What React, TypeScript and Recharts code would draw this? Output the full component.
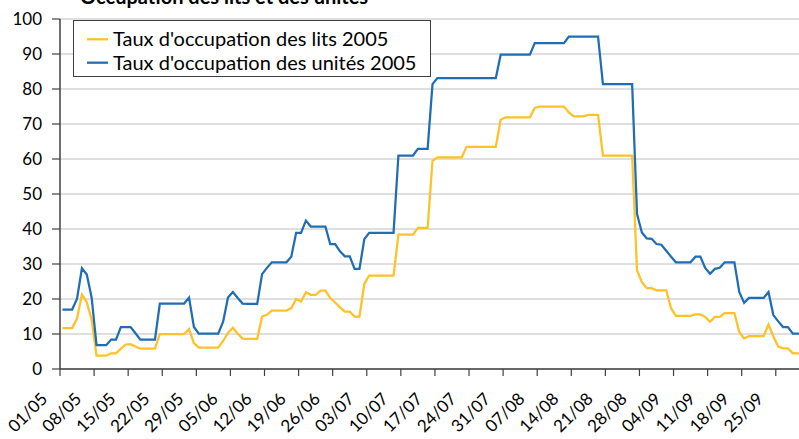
import React from 'react';
import { LineChart, Line, XAxis, YAxis, CartesianGrid, Legend } from 'recharts';

// Daily occupancy, 01/05/2005 .. 30/09/2005 (153 days)
const LITS_2005: number[] = [
  11.7, 11.7, 11.7, 14.4, 21.3, 19.1, 14.1, 3.8, 3.8, 3.8,
  4.5, 4.5, 5.8, 7.0, 7.1, 6.4, 5.8, 5.8, 5.8, 5.8,
  10.0, 10.0, 10.0, 10.0, 10.0, 10.0, 11.4, 7.4, 6.1, 6.1,
  6.1, 6.1, 6.1, 8.0, 10.3, 11.8, 10.1, 8.7, 8.6, 8.6,
  8.6, 15.0, 15.5, 16.7, 16.7, 16.7, 16.7, 17.4, 20.0, 19.3,
  21.9, 21.2, 21.2, 22.4, 22.4, 20.3, 19.0, 17.6, 16.4, 16.4,
  15.0, 15.0, 24.3, 26.7, 26.7, 26.7, 26.7, 26.7, 26.7, 38.4,
  38.4, 38.4, 38.4, 40.3, 40.3, 40.3, 59.5, 60.5, 60.5, 60.5,
  60.5, 60.5, 60.5, 63.5, 63.5, 63.5, 63.5, 63.5, 63.5, 63.5,
  71.2, 71.9, 71.9, 71.9, 71.9, 71.9, 71.9, 74.6, 75.0, 75.0,
  75.0, 75.0, 75.0, 75.0, 73.3, 72.2, 72.2, 72.2, 72.6, 72.6,
  72.6, 61.0, 61.0, 61.0, 61.0, 61.0, 61.0, 61.0, 28.2, 24.8,
  23.1, 23.1, 22.5, 22.5, 22.5, 17.3, 15.2, 15.2, 15.2, 15.2,
  15.6, 15.6, 14.9, 13.5, 14.9, 14.9, 16.0, 16.0, 16.0, 10.6,
  8.7, 9.4, 9.4, 9.4, 9.4, 12.7, 9.3, 6.4, 5.9, 5.9,
  4.5, 4.5, 4.5,
];

const UNITES_2005: number[] = [
  17.0, 17.0, 17.0, 20.1, 28.8, 27.0, 20.4, 6.8, 6.8, 6.8,
  8.4, 8.4, 12.0, 12.0, 12.0, 10.2, 8.4, 8.4, 8.4, 8.4,
  18.7, 18.7, 18.7, 18.7, 18.7, 18.7, 20.4, 12.0, 10.1, 10.1,
  10.1, 10.1, 10.1, 13.5, 20.4, 22.0, 20.3, 18.7, 18.6, 18.6,
  18.6, 27.1, 28.9, 30.5, 30.5, 30.5, 30.5, 32.1, 38.9, 38.9,
  42.4, 40.7, 40.7, 40.7, 40.7, 35.7, 35.7, 33.6, 32.2, 32.2,
  28.6, 28.6, 37.1, 38.9, 38.9, 38.9, 38.9, 38.9, 38.9, 61.0,
  61.0, 61.0, 61.0, 62.9, 62.9, 62.9, 81.4, 83.1, 83.1, 83.1,
  83.1, 83.1, 83.1, 83.1, 83.1, 83.1, 83.1, 83.1, 83.1, 83.1,
  89.8, 89.8, 89.8, 89.8, 89.8, 89.8, 89.8, 93.1, 93.1, 93.1,
  93.1, 93.1, 93.1, 93.1, 95.0, 95.0, 95.0, 95.0, 95.0, 95.0,
  95.0, 81.4, 81.4, 81.4, 81.4, 81.4, 81.4, 81.4, 44.3, 39.0,
  37.3, 37.2, 35.7, 35.5, 33.8, 32.1, 30.5, 30.5, 30.5, 30.5,
  32.1, 32.1, 28.9, 27.2, 28.6, 28.9, 30.5, 30.5, 30.5, 22.0,
  18.9, 20.3, 20.3, 20.3, 20.3, 22.0, 15.4, 13.6, 12.0, 12.0,
  10.1, 10.1, 10.1,
];

const TICK_LABELS: string[] = [
  '01/05', '08/05', '15/05', '22/05', '29/05', '05/06', '12/06', '19/06',
  '26/06', '03/07', '10/07', '17/07', '24/07', '31/07', '07/08', '14/08',
  '21/08', '28/08', '04/09', '11/09', '18/09', '25/09',
];

const SERIES_NAMES = ["Taux d'occupation des lits 2005", "Taux d'occupation des unités 2005"];
const COLORS = ['#ffc125', '#1f6db5'];

const MONTH_LENGTHS = [[5, 31], [6, 30], [7, 31], [8, 31], [9, 30]];
const DAYS: string[] = [];
MONTH_LENGTHS.forEach(([m, n]) => {
  for (let d = 1; d <= n; d++) DAYS.push(`${String(d).padStart(2, '0')}/${String(m).padStart(2, '0')}`);
});

const data = DAYS.map((date, i) => ({ i, date, lits: LITS_2005[i], unites: UNITES_2005[i] }));

// tick marks sit on day boundaries (between categories)
const TICK_POS = TICK_LABELS.map((lbl) => DAYS.indexOf(lbl) - 0.5);

const FONT = 'Lato, "Noto Sans", sans-serif';

const XTick = (props: any) => {
  const { x, y, payload } = props;
  const idx = TICK_POS.indexOf(Number(payload.value));
  const label = idx >= 0 ? TICK_LABELS[idx] : '';
  const ax = Number(x) - 11.5;
  const ay = Number(y) + 24;
  return (
    <text
      x={ax}
      y={ay}
      textAnchor="end"
      fontSize={17}
      fontFamily={FONT}
      fill="#000"
      transform={`rotate(-45 ${ax} ${ay})`}
    >
      {label}
    </text>
  );
};

const LegendBox = () => (
  <svg width={358} height={57} style={{ display: 'block' }}>
    <rect x={0.5} y={0.5} width={357} height={56} fill="#fff" stroke="#404040" strokeWidth={1} />
    {SERIES_NAMES.map((name, k) => {
      const cy = 19.3 + k * 23.4;
      return (
        <g key={name}>
          <line x1={14} x2={35} y1={cy} y2={cy} stroke={COLORS[k]} strokeWidth={2.25} />
          <text x={40} y={cy + 7} fontSize={20} fontFamily={FONT} fill="#000">{name}</text>
        </g>
      );
    })}
  </svg>
);

export default function App() {
  return (
    <div style={{ position: 'absolute', left: 0, top: 0, width: 799, height: 439, overflow: 'hidden', background: '#fff' }}>
      <svg width={799} height={12} style={{ position: 'absolute', left: 0, top: 0 }}>
        <text x={80} y={4} fontSize={20} fontWeight="bold" fontFamily={FONT} fill="#000">Occupation des lits et des unités</text>
      </svg>
      <div style={{ position: 'absolute', left: 0, top: 0 }}>
        <LineChart width={806} height={439} data={data} margin={{ top: 19, right: 1, bottom: 0, left: 0 }}>
          <CartesianGrid vertical={false} stroke="#bfbfbf" strokeWidth={1} />
          <XAxis
            dataKey="i"
            type="number"
            domain={[-0.5, 152.5]}
            ticks={TICK_POS}
            interval={0}
            height={70}
            tickSize={7}
            tickMargin={0}
            tick={(p: any) => <XTick {...p} />}
            axisLine={{ stroke: '#404040', strokeWidth: 1.5 }}
            tickLine={{ stroke: '#404040', strokeWidth: 1.2 }}
          />
          <YAxis
            type="number"
            domain={[0, 100]}
            ticks={[0, 10, 20, 30, 40, 50, 60, 70, 80, 90, 100]}
            interval={0}
            width={60}
            tickSize={8}
            tickMargin={10}
            tick={{ fontSize: 17, fontFamily: FONT, fill: '#000' }}
            axisLine={{ stroke: '#404040', strokeWidth: 1.5 }}
            tickLine={{ stroke: '#404040', strokeWidth: 1.2 }}
          />
          <Legend
            layout="vertical"
            align="center"
            verticalAlign="middle"
            wrapperStyle={{ left: 73, top: 20, width: 358, height: 57 }}
            content={() => <LegendBox />}
          />
          <Line type="linear" dataKey="lits" name={SERIES_NAMES[0]} stroke={COLORS[0]} strokeWidth={2.25} dot={false} isAnimationActive={false} />
          <Line type="linear" dataKey="unites" name={SERIES_NAMES[1]} stroke={COLORS[1]} strokeWidth={2.25} dot={false} isAnimationActive={false} />
        </LineChart>
      </div>
    </div>
  );
}
